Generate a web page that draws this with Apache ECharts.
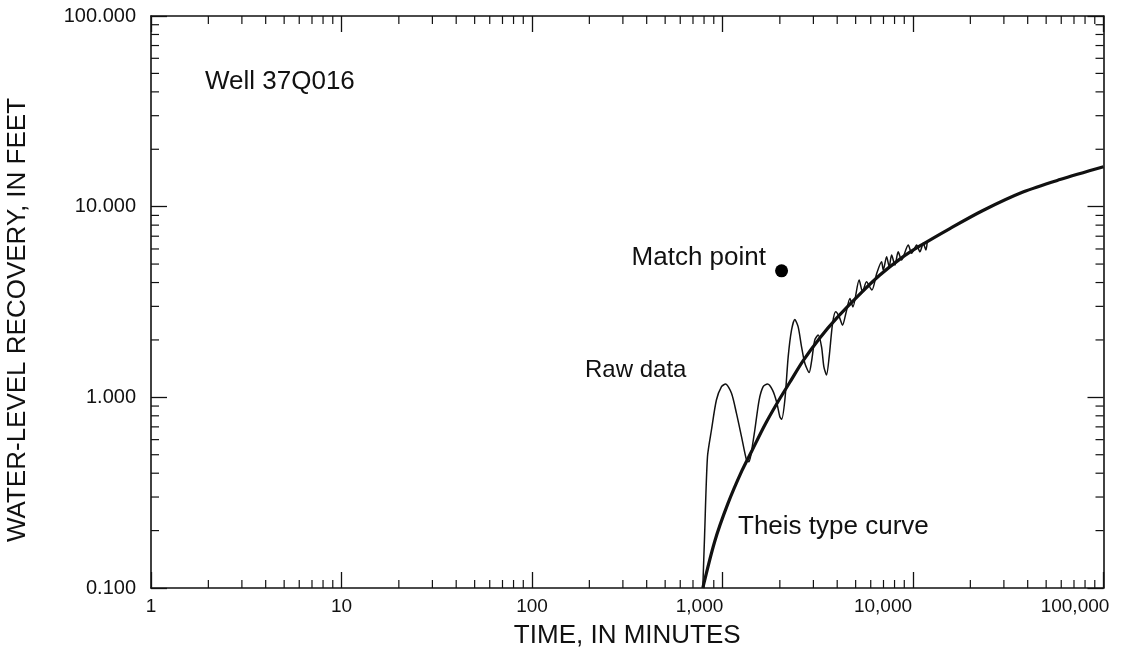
<!DOCTYPE html>
<html>
<head>
<meta charset="utf-8">
<script src="https://cdn.jsdelivr.net/npm/echarts@6/dist/echarts.min.js"></script>
<style>
html,body{margin:0;padding:0;background:#fff;}
#chart{width:1146px;height:661px;}
</style>
</head>
<body>
<div id="chart"></div>
<script>
// ---- Data ----
const X_MIN = 1, X_MAX = 100000;
const Y_MIN = 0.1, Y_MAX = 100;

// Theis type curve (time in minutes, recovery in feet)
const theisTime = [788, 911, 1066, 1263, 1425, 1668, 1951, 2257, 2641, 3243, 3985, 5262, 6703, 8535, 10870, 15620, 23290, 37770, 59080, 100000];
const theisRecovery = [0.1, 0.176, 0.276, 0.411, 0.523, 0.716, 0.945, 1.20, 1.55, 2.05, 2.61, 3.48, 4.38, 5.31, 6.22, 7.68, 9.55, 11.93, 13.87, 16.19];

// Raw data trace
const rawTime = [788, 805, 834, 875, 929, 988, 1037, 1115, 1184, 1259, 1337, 1374, 1409, 1478, 1557, 1635, 1723, 1831, 1922, 2000, 2043, 2125, 2212, 2303, 2397, 2496, 2600, 2705, 2850, 2933, 3052, 3178, 3311, 3404, 3516, 3630, 3783, 3926, 4097, 4267, 4443, 4667, 4835, 5216, 5433, 5700, 6085, 6460, 6840, 6980, 7270, 7500, 7720, 8040, 8360, 8710, 9440, 9840, 10450, 10870, 11320, 11690, 11880];
const rawRecovery = [0.1, 0.186, 0.488, 0.674, 0.968, 1.137, 1.174, 1.05, 0.824, 0.621, 0.469, 0.459, 0.498, 0.674, 0.968, 1.137, 1.174, 1.092, 0.948, 0.791, 0.767, 0.968, 1.63, 2.25, 2.56, 2.34, 1.84, 1.51, 1.35, 1.54, 2.0, 2.12, 1.84, 1.45, 1.31, 1.63, 2.44, 2.81, 2.65, 2.39, 2.76, 3.30, 2.98, 4.12, 3.58, 4.04, 3.65, 4.49, 5.14, 4.65, 5.46, 4.84, 5.57, 4.94, 5.80, 5.25, 6.29, 5.69, 6.29, 5.80, 6.42, 5.92, 6.55];

// Match point
const matchTime = [2042];
const matchRecovery = [4.61];

// Minor tick values
const xMinorTicks = [2,3,4,5,6,7,8,9, 20,30,40,50,60,70,80,90, 200,300,400,500,600,700,800,900, 2000,3000,4000,5000,6000,7000,8000,9000, 20000,30000,40000,50000,60000,70000,80000,90000];
const yMinorTicks = [0.2,0.3,0.4,0.5,0.6,0.7,0.8,0.9, 2,3,4,5,6,7,8,9, 20,30,40,50,60,70,80,90];

// Text
const xTitle = 'TIME, IN MINUTES';
const yTitle = 'WATER-LEVEL RECOVERY, IN FEET';
const wellLabel = 'Well 37Q016';
const matchLabel = 'Match point';
const rawLabel = 'Raw data';
const theisLabel = 'Theis type curve';

// ---- Styles ----
const FONT = '"Liberation Sans", Arial, Helvetica, sans-serif';
const INK = '#111';
const MAJOR_LEN = 16, MINOR_LEN = 8;

function comma(n){ return String(Math.round(n)).replace(/\B(?=(\d{3})+(?!\d))/g, ','); }

const xLabelStyle = {
  show: true, margin: 9, color: INK, fontFamily: FONT, fontSize: 19,
  showMinLabel: true, showMaxLabel: true,
  formatter: function(v){
    const s = comma(v);
    if (s.length === 5) return '{a|' + s + '}';
    if (s.length === 6) return '{b|' + s + '}';
    if (s.length === 7) return '{c|' + s + '}';
    return '{n|' + s + '}';
  },
  rich: {
    n: {fontSize: 19, fontFamily: FONT, color: INK},
    a: {fontSize: 19, fontFamily: FONT, color: INK, padding: [0, 46, 0, 0]},
    b: {fontSize: 19, fontFamily: FONT, color: INK, padding: [0, 60, 0, 0]},
    c: {fontSize: 19, fontFamily: FONT, color: INK, padding: [0, 57, 0, 0]}
  }
};

function baseAxis(extra){
  return Object.assign({
    type: 'log', logBase: 10,
    axisLine: {show: true, onZero: false, lineStyle: {color: INK, width: 1.6}},
    axisTick: {show: true, inside: true, length: MAJOR_LEN, lineStyle: {color: INK, width: 1.3}},
    splitLine: {show: false},
    minorTick: {show: false},
    minorSplitLine: {show: false}
  }, extra);
}

const chart = echarts.init(document.getElementById('chart'), null, {renderer: 'canvas'});

const option = {
  animation: false,
  backgroundColor: '#ffffff',
  textStyle: {fontFamily: FONT, color: INK},
  grid: {left: 151, right: 42.5, top: 16, bottom: 73, containLabel: false, outerBoundsMode: 'none'},
  xAxis: [
    baseAxis({
      min: X_MIN, max: X_MAX, position: 'bottom',
      axisLabel: xLabelStyle,
      name: xTitle, nameLocation: 'middle', nameGap: 35,
      nameTextStyle: {fontFamily: FONT, fontSize: 26, color: INK}
    }),
    baseAxis({min: X_MIN, max: X_MAX, position: 'top', axisLabel: {show: false}})
  ],
  yAxis: [
    baseAxis({
      min: Y_MIN, max: Y_MAX, position: 'left',
      axisLabel: {show: true, margin: 15, color: INK, fontFamily: FONT, fontSize: 20,
        showMinLabel: true, showMaxLabel: true,
        formatter: function(v){ return Number(v).toFixed(3); }},
      name: yTitle, nameLocation: 'middle', nameGap: 120,
      nameTextStyle: {fontFamily: FONT, fontSize: 26, color: INK, padding: [0, 36, 0, 0]}
    }),
    baseAxis({min: Y_MIN, max: Y_MAX, position: 'right', axisLabel: {show: false}})
  ],
  series: [
    {
      type: 'custom', name: 'xMinor', coordinateSystem: 'cartesian2d', xAxisIndex: 0, yAxisIndex: 0,
      silent: true, clip: false,
      data: xMinorTicks.map(v => [v, Y_MIN]),
      renderItem: function(params, api){
        const v = api.value(0);
        const b = api.coord([v, Y_MIN]);
        const t = api.coord([v, Y_MAX]);
        const st = {stroke: INK, lineWidth: 1.2};
        return {type: 'group', children: [
          {type: 'line', shape: {x1: b[0], y1: b[1], x2: b[0], y2: b[1] - MINOR_LEN}, style: st},
          {type: 'line', shape: {x1: t[0], y1: t[1], x2: t[0], y2: t[1] + MINOR_LEN}, style: st}
        ]};
      }
    },
    {
      type: 'custom', name: 'yMinor', coordinateSystem: 'cartesian2d', xAxisIndex: 0, yAxisIndex: 0,
      silent: true, clip: false,
      data: yMinorTicks.map(v => [X_MIN, v]),
      renderItem: function(params, api){
        const v = api.value(1);
        const l = api.coord([X_MIN, v]);
        const r = api.coord([X_MAX, v]);
        const st = {stroke: INK, lineWidth: 1.2};
        return {type: 'group', children: [
          {type: 'line', shape: {x1: l[0], y1: l[1], x2: l[0] + MINOR_LEN, y2: l[1]}, style: st},
          {type: 'line', shape: {x1: r[0], y1: r[1], x2: r[0] - MINOR_LEN, y2: r[1]}, style: st}
        ]};
      }
    },
    {
      type: 'line', name: 'Raw data', xAxisIndex: 0, yAxisIndex: 0,
      data: rawTime.map((t, i) => [t, rawRecovery[i]]),
      showSymbol: false, symbol: 'none', smooth: 0.25,
      lineStyle: {color: INK, width: 1.5}, z: 3
    },
    {
      type: 'line', name: 'Theis type curve', xAxisIndex: 0, yAxisIndex: 0,
      data: theisTime.map((t, i) => [t, theisRecovery[i]]),
      showSymbol: false, symbol: 'none', smooth: 0.3,
      lineStyle: {color: INK, width: 3.2}, z: 4
    },
    {
      type: 'scatter', name: 'Match point', xAxisIndex: 0, yAxisIndex: 0,
      data: matchTime.map((t, i) => [t, matchRecovery[i]]),
      symbol: 'circle', symbolSize: 13, itemStyle: {color: '#000', opacity: 1}, z: 5
    }
  ],
  graphic: [
    {type: 'text', x: 205, y: 82, silent: true,
      style: {text: wellLabel, font: '26px ' + FONT, fill: INK, align: 'left', verticalAlign: 'middle'}},
    {type: 'text', x: 766, y: 258, silent: true,
      style: {text: matchLabel, font: '26px ' + FONT, fill: INK, align: 'right', verticalAlign: 'middle'}},
    {type: 'text', x: 585, y: 370, silent: true,
      style: {text: rawLabel, font: '24px ' + FONT, fill: INK, align: 'left', verticalAlign: 'middle'}},
    {type: 'text', x: 738, y: 527, silent: true,
      style: {text: theisLabel, font: '26px ' + FONT, fill: INK, align: 'left', verticalAlign: 'middle'}}
  ]
};

chart.setOption(option);
</script>
</body>
</html>
